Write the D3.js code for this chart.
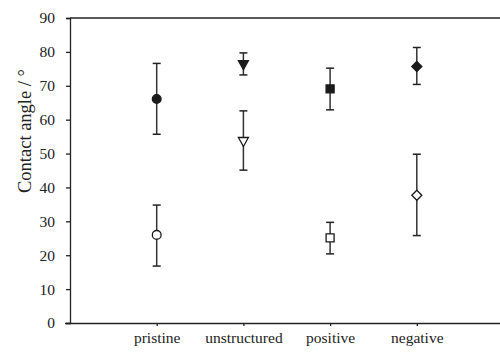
<!DOCTYPE html>
<html lang="en">
<head>
<meta charset="UTF-8">
<title>Contact angle</title>
<script src="https://d3js.org/d3.v7.min.js"></script>
<style>
  body { margin: 0; background: #fff; }
  svg text { font-family: "Liberation Serif", "Times New Roman", serif; fill: #222; }
</style>
</head>
<body>
<div id="chart"></div>
<script>
// categories and values (contact angle, degrees)
const categories = ["pristine", "unstructured", "positive", "negative"];
const filledMean = [66.1, 76.4, 69.1, 75.7];
const filledLow = [55.7, 73.2, 62.9, 70.4];
const filledHigh = [76.6, 79.7, 75.2, 81.3];
const openMean = [26.0, 53.7, 25.1, 37.7];
const openLow = [16.8, 45.1, 20.4, 25.8];
const openHigh = [34.8, 62.6, 29.7, 49.8];
const shapes = ["circle", "triangle", "square", "diamond"];
const yTicks = [0, 10, 20, 30, 40, 50, 60, 70, 80, 90];

const width = 500, height = 354;
const mLeft = 70, mTop = 18, mBottom = 323, xEnd = 503.5;

const svg = d3.select("#chart").append("svg")
  .attr("width", width).attr("height", height);

const x = d3.scaleLinear().domain([0, 5]).range([mLeft, xEnd]);
const y = d3.scaleLinear().domain([0, 90]).range([mBottom, mTop]);

// y axis
const yAxis = svg.append("g")
  .attr("transform", "translate(" + mLeft + ",0)")
  .call(d3.axisLeft(y).tickValues(yTicks).tickSize(4).tickPadding(11));
yAxis.selectAll("text").attr("font-size", 15.5);

// x axis
const xAxis = svg.append("g")
  .attr("transform", "translate(0," + mBottom + ")")
  .call(d3.axisBottom(x).tickValues([1, 2, 3, 4]).tickSize(3).tickPadding(6)
    .tickFormat(d => categories[d - 1]));
xAxis.selectAll("text").attr("font-size", 15.5);
xAxis.select(".domain").attr("d", "M" + (mLeft - 5) + ",0.5H" + xEnd);

svg.selectAll(".domain, .tick line").attr("stroke", "#222").attr("stroke-width", 1.3);

// top frame line
svg.append("line")
  .attr("x1", mLeft).attr("x2", xEnd)
  .attr("y1", y(90)).attr("y2", y(90))
  .attr("stroke", "#222").attr("stroke-width", 1.3);

// y label
svg.append("text")
  .attr("transform", "translate(31,131) rotate(-90)")
  .attr("text-anchor", "middle")
  .attr("font-size", 18.5)
  .text("Contact angle / \u00B0");

function markerPath(shape) {
  if (shape === "circle") return d3.symbol(d3.symbolCircle, 60)();
  if (shape === "square") return "M-4,-4H4V4H-4Z";
  if (shape === "diamond") return "M0,-5L5,0L0,5L-5,0Z";
  return "M-5,-3.5H5L0,5.5Z"; // downward triangle
}

function drawSeries(mean, low, high, filled) {
  const g = svg.append("g");
  categories.forEach((c, i) => {
    const cx = x(i + 1);
    g.append("line")
      .attr("x1", cx).attr("x2", cx)
      .attr("y1", y(low[i])).attr("y2", y(high[i]))
      .attr("stroke", "#333").attr("stroke-width", 1.5);
    [low[i], high[i]].forEach(v => {
      g.append("line")
        .attr("x1", cx - 4).attr("x2", cx + 4)
        .attr("y1", y(v)).attr("y2", y(v))
        .attr("stroke", "#222").attr("stroke-width", 1.5);
    });
    g.append("path")
      .attr("d", markerPath(shapes[i]))
      .attr("transform", "translate(" + cx + "," + y(mean[i]) + ")")
      .attr("fill", filled ? "#1a1a1a" : "#fff")
      .attr("stroke", "#1a1a1a")
      .attr("stroke-width", 1.3);
  });
}

drawSeries(filledMean, filledLow, filledHigh, true);
drawSeries(openMean, openLow, openHigh, false);
</script>
</body>
</html>
